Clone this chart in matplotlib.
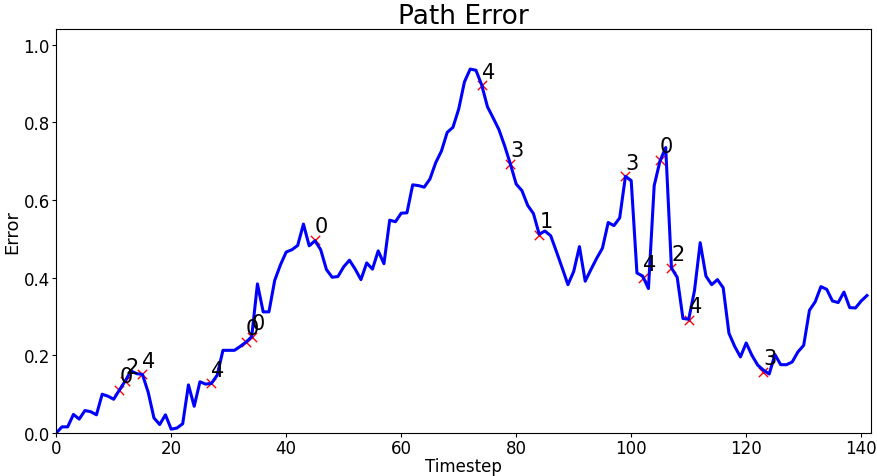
import matplotlib
matplotlib.use("Agg")
import matplotlib.pyplot as plt
import numpy as np

# path error per timestep
error = [0.0, 0.016, 0.016, 0.048, 0.036, 0.058, 0.055, 0.047, 0.1, 0.095,
         0.087, 0.111, 0.134, 0.16, 0.153, 0.151, 0.105, 0.039, 0.022, 0.047,
         0.01, 0.013, 0.024, 0.124, 0.069, 0.132, 0.126, 0.128, 0.149, 0.213,
         0.213, 0.213, 0.223, 0.234, 0.248, 0.384, 0.312, 0.312, 0.393, 0.433,
         0.466, 0.472, 0.483, 0.538, 0.482, 0.495, 0.472, 0.421, 0.401, 0.403,
         0.428, 0.445, 0.422, 0.395, 0.438, 0.422, 0.469, 0.436, 0.548, 0.544,
         0.566, 0.567, 0.639, 0.637, 0.633, 0.654, 0.696, 0.726, 0.774, 0.787,
         0.834, 0.904, 0.937, 0.934, 0.896, 0.84, 0.811, 0.781, 0.739, 0.692,
         0.641, 0.624, 0.586, 0.565, 0.512, 0.52, 0.508, 0.467, 0.425, 0.382,
         0.416, 0.48, 0.391, 0.421, 0.45, 0.476, 0.542, 0.534, 0.554, 0.661,
         0.65, 0.412, 0.404, 0.372, 0.637, 0.70, 0.735, 0.425, 0.401, 0.295,
         0.293, 0.366, 0.49, 0.404, 0.382, 0.395, 0.374, 0.257, 0.223, 0.196,
         0.232, 0.2, 0.175, 0.162, 0.152, 0.202, 0.176, 0.176, 0.183, 0.209,
         0.226, 0.316, 0.338, 0.377, 0.37, 0.34, 0.336, 0.363, 0.323, 0.322,
         0.34, 0.354]
timesteps = np.arange(len(error))

# labelled events
event_steps = [11, 12, 15, 27, 33, 34, 45, 74, 79, 84, 99, 102, 105, 107, 110, 123]
event_errors = [0.111, 0.134, 0.151, 0.128, 0.234, 0.248, 0.497, 0.895, 0.692,
                0.51, 0.661, 0.40, 0.703, 0.425, 0.292, 0.158]
event_labels = ["0", "2", "4", "4", "0", "0", "0", "4", "3", "1", "3", "4",
                "0", "2", "4", "3"]

fig, ax = plt.subplots(figsize=(8.78, 4.77), dpi=100)
fig.subplots_adjust(left=0.064, right=0.992, top=0.937, bottom=0.09)

ax.scatter(event_steps, event_errors, marker="x", color="red", s=45,
           linewidths=1, zorder=1)
ax.plot(timesteps, error, color="blue", linewidth=2.2, zorder=2)
for t, e, lab in zip(event_steps, event_errors, event_labels):
    ax.text(t, e + 0.02, lab, fontsize=15, zorder=3)

ax.set_xlim(0, 141.7)
ax.set_ylim(0, 1.04)
ax.set_title("Path Error", fontsize=19, pad=3)
ax.set_xlabel("Timestep", fontsize=12, labelpad=0)
ax.set_ylabel("Error", fontsize=13, labelpad=2)
ax.tick_params(labelsize=12, pad=1.5, length=3)

plt.savefig("out.png")
